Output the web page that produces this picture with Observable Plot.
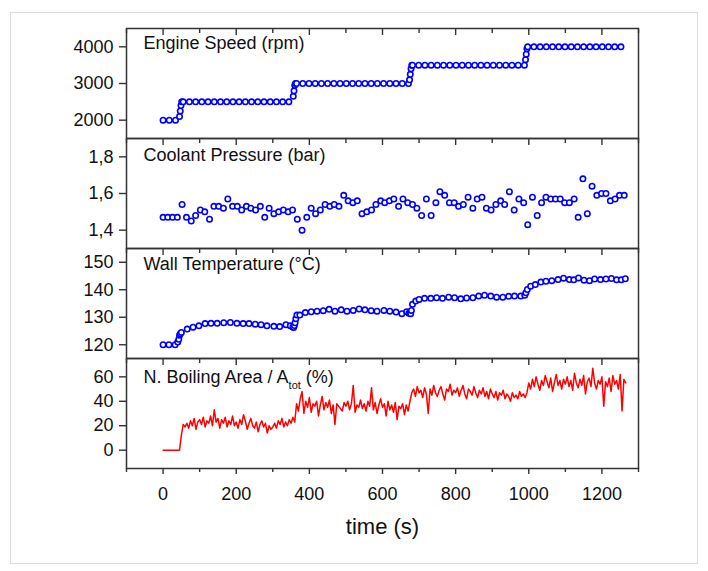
<!DOCTYPE html>
<html><head><meta charset="utf-8">
<script src="https://cdn.jsdelivr.net/npm/d3@7"></script>
<script src="https://cdn.jsdelivr.net/npm/@observablehq/plot@0.6"></script>
<style>
body{margin:0;background:#fff;}
#wrap{position:relative;width:708px;height:571px;overflow:hidden;background:#fff;}
#border{position:absolute;left:10px;top:12px;width:686px;height:550px;border:1px solid #dcdcdc;pointer-events:none;}
#charts svg{display:block;}
</style></head><body>
<div id="wrap"><div id="border"></div><div id="charts"></div></div>
<script>
// ---- data ----
const xMajorTicks = [0, 200, 400, 600, 800, 1000, 1200];
const xMinorTicks = [-100, 100, 300, 500, 700, 900, 1100, 1300];

const speedTitle = "Engine Speed (rpm)";
const speedTicks = [2000, 3000, 4000];
const speedTime = [0,17,34,45,47,49,51,55,72,89,106,123,140,157,174,191,208,225,242,259,276,293,310,327,344,
  356,358,360,362,365,382,399,416,433,450,467,484,501,518,535,552,569,586,603,620,637,654,671,
  674,676,678,680,682,699,716,733,750,767,784,801,818,835,852,869,886,903,920,937,954,971,988,
  991,993,995,997,1014,1031,1048,1065,1082,1099,1116,1133,1150,1167,1184,1201,1218,1235,1252];
const speedRpm = [2000,2000,2000,2100,2250,2400,2500,2500,2500,2500,2500,2500,2500,2500,2500,2500,2500,2500,2500,2500,2500,2500,2500,2500,2500,
  2650,2800,2950,3000,3000,3000,3000,3000,3000,3000,3000,3000,3000,3000,3000,3000,3000,3000,3000,3000,3000,3000,3000,
  3100,3250,3400,3500,3500,3500,3500,3500,3500,3500,3500,3500,3500,3500,3500,3500,3500,3500,3500,3500,3500,3500,3500,
  3650,3800,3950,4000,4000,4000,4000,4000,4000,4000,4000,4000,4000,4000,4000,4000,4000,4000,4000];

const pressureTitle = "Coolant Pressure (bar)";
const pressureTicks = [1.4, 1.6, 1.8];
const pressureTime = [0,13,26,39,52,64,77,89,102,114,127,139,152,165,177,190,203,215,228,240,253,266,278,290,303,316,329,342,354,367,
  380,393,405,417,430,443,456,468,481,494,506,519,531,544,557,570,582,595,606,619,631,644,656,669,682,694,707,720,733,746,
  757,770,783,796,808,821,834,847,859,872,884,897,910,923,934,947,960,973,986,997,1010,1023,1035,1047,1060,1073,1086,1098,1111,1124,
  1135,1148,1160,1173,1186,1199,1211,1223,1236,1248,1261];
const pressureBar = [1.47,1.47,1.47,1.47,1.54,1.47,1.45,1.48,1.51,1.50,1.46,1.53,1.53,1.52,1.57,1.53,1.53,1.51,1.53,1.52,1.51,1.53,1.47,1.52,1.49,1.50,1.51,1.50,1.51,1.46,
  1.40,1.47,1.52,1.49,1.51,1.54,1.53,1.54,1.53,1.59,1.56,1.55,1.56,1.49,1.50,1.51,1.54,1.56,1.55,1.56,1.57,1.53,1.57,1.55,1.54,1.52,1.48,1.57,1.48,1.55,
  1.61,1.59,1.55,1.55,1.53,1.54,1.58,1.52,1.57,1.58,1.52,1.51,1.54,1.56,1.54,1.61,1.51,1.57,1.55,1.43,1.58,1.48,1.55,1.58,1.57,1.57,1.57,1.55,1.55,1.57,
  1.47,1.68,1.49,1.64,1.59,1.60,1.60,1.56,1.57,1.59,1.59];

const wallTitle = "Wall Temperature (°C)";
const wallTicks = [120, 130, 140, 150];
const wallTime = [0,16,33,40,43,45,47,50,66,82,98,115,131,148,166,184,202,219,235,252,268,284,303,319,336,348,
  355,357,359,361,363,366,374,389,405,421,438,454,470,487,503,520,536,552,569,585,604,620,637,653,666,
  672,675,677,679,682,691,700,715,732,748,764,781,797,814,830,847,863,879,896,912,929,945,961,978,989,
  992,996,1005,1018,1033,1047,1063,1080,1095,1111,1123,1136,1151,1166,1180,1196,1211,1226,1240,1253,1264];
const wallTemp = [120,120,120,121,122,123.5,124,124.5,125.7,126.4,126.9,127.7,127.8,127.8,128,128.1,127.8,127.7,127.7,127.5,127.3,126.9,126.7,126.6,127.3,126.9,
  126.5,126.3,127,128,129.5,130.8,130.8,131.7,132,132.2,132.4,132.9,132.2,132.7,132.2,132.5,133,132.7,132.4,132.2,132.5,132.2,131.9,131.3,132,
  131.5,131.7,131.3,132.5,134.7,135.9,136.5,136.9,136.9,137.1,136.9,137.3,137.1,136.7,137,137.1,137.7,138,137.7,137.3,137.3,137.6,137.7,137.7,138,
  138.9,140.1,141.3,141.9,142.8,143.1,143.3,143.7,144.2,143.7,143.6,144.3,143.5,143.3,143.9,143.7,143.9,144.1,143.6,143.6,144];

const boilTitle = "N. Boiling Area / A";
const boilSub = "tot";
const boilUnit = " (%)";
const boilTicks = [0, 20, 40, 60];
const boilTime = [0,5,10,15,20,25,30,35,40,45,50,55,60,65,70,75,80,85,90,95,
  100,105,110,115,120,125,130,135,140,145,150,155,160,165,170,175,180,185,190,195,
  200,205,210,215,220,225,230,235,240,245,250,255,260,265,270,275,280,285,290,295,
  300,305,310,315,320,325,330,335,340,345,350,355,360,365,370,375,380,385,390,395,
  400,405,410,415,420,425,430,435,440,445,450,455,460,465,470,475,480,485,490,495,
  500,505,510,515,520,525,530,535,540,545,550,555,560,565,570,575,580,585,590,595,
  600,605,610,615,620,625,630,635,640,645,650,655,660,665,670,675,680,685,690,695,
  700,705,710,715,720,725,730,735,740,745,750,755,760,765,770,775,780,785,790,795,
  800,805,810,815,820,825,830,835,840,845,850,855,860,865,870,875,880,885,890,895,
  900,905,910,915,920,925,930,935,940,945,950,955,960,965,970,975,980,985,990,995,
  1000,1005,1010,1015,1020,1025,1030,1035,1040,1045,1050,1055,1060,1065,1070,1075,1080,1085,1090,1095,
  1100,1105,1110,1115,1120,1125,1130,1135,1140,1145,1150,1155,1160,1165,1170,1175,1180,1185,1190,1195,
  1200,1205,1210,1215,1220,1225,1230,1235,1240,1245,1250,1255,1260,1265];
const boilArea = [0,0,0,0,0,0,0,0,0,0,12,21,19,22,18,24,20,26,17,23,
  25,21,27,19,24,22,28,20,33,23,26,18,25,22,27,19,24,21,28,20,
  23,18,25,21,29,24,17,22,26,20,18,23,15,21,24,19,22,14,20,17,
  19,22,18,24,21,26,19,23,20,25,22,27,23,38,32,42,48,30,40,35,
  43,31,38,36,40,28,37,44,33,39,35,41,30,37,21,38,36,34,32,39,
  36,40,33,38,53,31,37,35,41,34,38,32,40,36,51,33,39,30,37,42,
  35,38,28,40,33,37,31,39,25,36,34,38,29,37,32,40,47,50,44,52,
  47,49,43,51,46,30,50,45,53,47,44,49,52,46,41,50,48,54,45,49,
  47,51,44,49,53,46,42,50,48,45,52,47,43,49,46,51,44,48,42,50,
  46,43,48,41,47,45,49,42,46,44,40,47,43,45,42,48,44,46,43,47,
  55,50,58,52,60,54,49,57,53,61,56,51,59,48,55,62,53,57,50,58,
  54,60,52,57,49,63,55,51,58,53,61,46,56,59,52,67,55,50,57,54,
  60,36,56,52,59,48,61,54,57,50,62,32,58,55];

const xLabel = "time (s)";

// ---- helpers ----
const zip = (ts, vs) => ts.map((t, i) => ({t, v: vs[i]}));
const FONT = "'Liberation Sans', Arial, Helvetica, sans-serif";
const INK = "#111";
const AX = "#333";

function panel({yDomain, yTicks, yFormat, title, titleDy, height, marginTop = 0, marginBottom = 0, data, extra = []}) {
  return Plot.plot({
    width: 708, height, marginLeft: 126, marginRight: 70, marginTop, marginBottom,
    style: {fontFamily: FONT, fontSize: "18px", color: INK, background: "transparent", overflow: "visible"},
    x: {domain: [-100, 1300]},
    y: {domain: yDomain},
    marks: [
      ...data,
      Plot.frame({stroke: AX, strokeWidth: 1.5}),
      Plot.axisY({ticks: yTicks, tickSize: 7, tickPadding: 6, tickFormat: yFormat, label: null, stroke: AX, strokeWidth: 1.4, fill: INK}),
      Plot.axisX({anchor: "top", ticks: xMajorTicks, tickSize: -6, tickFormat: () => "", label: null, stroke: AX, strokeWidth: 1.4}),
      Plot.axisX({anchor: "top", ticks: xMinorTicks, tickSize: -4, tickFormat: () => "", label: null, stroke: AX, strokeWidth: 1.4}),
      ...extra,
      Plot.text([title], {text: d => d, frameAnchor: "top-left", dx: 17, dy: titleDy, lineAnchor: "bottom", fontSize: 18, fill: INK})
    ]
  });
}

const dotStyle = {x: "t", y: "v", r: 2.7, stroke: "#0000ff", strokeWidth: 1.6, fill: "white"};

const p1 = panel({
  yDomain: [1500, 4500], yTicks: speedTicks, yFormat: d => String(d), title: speedTitle, titleDy: 20,
  height: 138, marginTop: 28, data: [Plot.dot(zip(speedTime, speedRpm), dotStyle)]
});
const p2 = panel({
  yDomain: [1.3, 1.9], yTicks: pressureTicks, yFormat: d => d.toFixed(1).replace(".", ","), title: pressureTitle, titleDy: 22,
  height: 110, data: [Plot.dot(zip(pressureTime, pressureBar), dotStyle)]
});
const p3 = panel({
  yDomain: [115, 155], yTicks: wallTicks, yFormat: d => String(d), title: wallTitle, titleDy: 21,
  height: 110, data: [Plot.dot(zip(wallTime, wallTemp), dotStyle)]
});
const p4 = panel({
  yDomain: [-15, 75], yTicks: boilTicks, yFormat: d => String(d), title: boilTitle, titleDy: 24,
  height: 213, marginBottom: 103,
  data: [Plot.line(zip(boilTime, boilArea), {x: "t", y: "v", stroke: "#ff0000", strokeWidth: 1.5, strokeLinejoin: "round"})],
  extra: [
    Plot.axisX({anchor: "bottom", ticks: xMajorTicks, tickSize: 6, tickPadding: 13, tickFormat: d => String(d), label: null, stroke: AX, strokeWidth: 1.4, fill: INK}),
    Plot.axisX({anchor: "bottom", ticks: xMinorTicks, tickSize: 4, tickFormat: () => "", label: null, stroke: AX, strokeWidth: 1.4}),
    Plot.text([xLabel], {text: d => d, frameAnchor: "bottom", dy: 65, lineAnchor: "bottom", fontSize: 22, fill: INK})
  ]
});

// subscript in the boiling-area title
const ns = "http://www.w3.org/2000/svg";
p4.querySelectorAll("text").forEach(el => {
  if (el.textContent === boilTitle) {
    const sub = document.createElementNS(ns, "tspan");
    sub.setAttribute("dy", "6"); sub.setAttribute("font-size", "11"); sub.textContent = boilSub;
    const unit = document.createElementNS(ns, "tspan");
    unit.setAttribute("dy", "-6"); unit.textContent = boilUnit;
    el.appendChild(sub); el.appendChild(unit);
  }
});

const charts = document.getElementById("charts");
[p1, p2, p3, p4].forEach(p => charts.appendChild(p));
</script>
</body></html>
